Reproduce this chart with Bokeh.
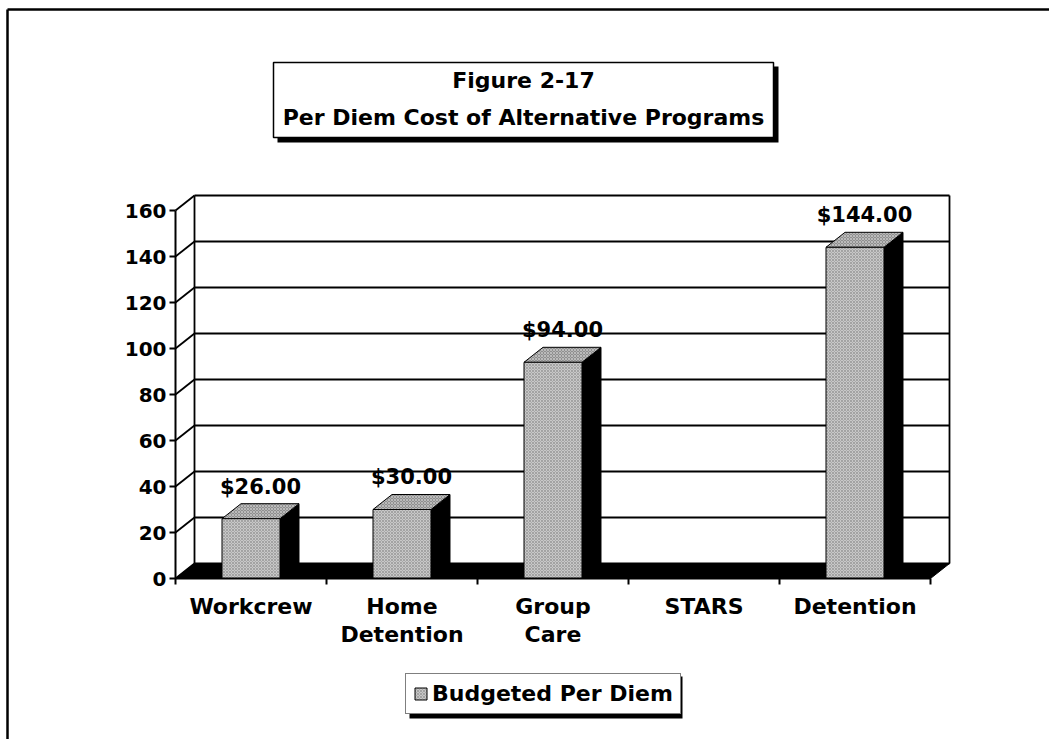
from bokeh.plotting import figure
from bokeh.models import Range1d, LinearAxis, FixedTicker, Legend, LegendItem
from bokeh.core.properties import value
from bokeh.embed import file_html
from bokeh.resources import INLINE

# ---------------- data ----------------
categories = ["Workcrew", "Home Detention", "Group Care", "STARS", "Detention"]
axis_labels = ["Workcrew", "Home\nDetention", "Group\nCare", "STARS", "Detention"]
budgeted = [26.0, 30.0, 94.0, None, 144.0]
value_labels = ["$26.00", "$30.00", "$94.00", "", "$144.00"]
y_ticks = [0, 20, 40, 60, 80, 100, 120, 140, 160]
title_lines = ["Figure 2-17", "Per Diem Cost of Alternative Programs"]
series_name = "Budgeted Per Diem"

# ---------------- geometry ----------------
W, H = 1049, 739
X0_PX, Y0_PX = 175, 578          # front-left corner of floor (category -0.5, value 0)
PX_PER_CAT, PX_PER_VAL = 151, 2.3
DEPTH_X_PX, DEPTH_Y_PX = 19, 15


def xd(px):
    return -0.5 + (px - X0_PX) / PX_PER_CAT


def yd(py):
    return (Y0_PX - py) / PX_PER_VAL


DX = DEPTH_X_PX / PX_PER_CAT
DY = DEPTH_Y_PX / PX_PER_VAL
HALF = 0.192
XMIN, XMAX = -0.5, len(categories) - 0.5
YMAX = y_ticks[-1]
FONT = value("DejaVu Sans")

p = figure(width=W, height=H, x_range=Range1d(xd(0), xd(W)), y_range=Range1d(yd(H), yd(0)),
           output_backend="svg", toolbar_location=None, min_border=0,
           x_axis_type=None, y_axis_type=None, outline_line_color=None,
           background_fill_color="white", border_fill_color="white")

# outer frame (top and left edges visible)
p.segment(x0=[xd(7), xd(7)], y0=[yd(9), yd(9)], x1=[xd(W + 5), xd(7)], y1=[yd(9), yd(H + 5)],
          line_color="black", line_width=2.5)

# back wall gridlines
p.segment(x0=[XMIN + DX] * len(y_ticks), y0=[t + DY for t in y_ticks],
          x1=[XMAX + DX] * len(y_ticks), y1=[t + DY for t in y_ticks],
          line_color="black", line_width=1.8)
# side wall diagonals
p.segment(x0=[XMIN] * len(y_ticks), y0=y_ticks,
          x1=[XMIN + DX] * len(y_ticks), y1=[t + DY for t in y_ticks],
          line_color="black", line_width=1.8)
# back wall vertical edges
p.segment(x0=[XMIN + DX, XMAX + DX], y0=[DY, DY], x1=[XMIN + DX, XMAX + DX], y1=[YMAX + DY, YMAX + DY],
          line_color="black", line_width=1.8)

# floor
p.patch(x=[XMIN, XMAX, XMAX + DX, XMIN + DX], y=[0, 0, DY, DY], fill_color="black", line_color="black")

# bars
idx = [i for i, v in enumerate(budgeted) if v is not None]
vals = [budgeted[i] for i in idx]
side_x = [[i + HALF, i + HALF + DX, i + HALF + DX, i + HALF] for i in idx]
side_y = [[0, DY, v + DY, v] for v in vals]
p.patches(side_x, side_y, fill_color="black", line_color="black")
top_x = [[i - HALF, i + HALF, i + HALF + DX, i - HALF + DX] for i in idx]
top_y = [[v, v, v + DY, v + DY] for v in vals]
p.patches(top_x, top_y, fill_color="#8f8f8f", line_color="black", line_width=1,
          hatch_pattern="diagonal_cross", hatch_color="#d8d8d8", hatch_scale=3, hatch_weight=0.6)
front = p.quad(left=[i - HALF for i in idx], right=[i + HALF for i in idx], bottom=[0] * len(idx), top=vals,
               fill_color="#c8c8c8", line_color="black", line_width=1,
               hatch_pattern="diagonal_cross", hatch_color="#8a8a8a", hatch_scale=3, hatch_weight=0.6)

# value labels
p.text(x=[i + DX / 2 for i in idx], y=[v + 14 for v in vals], text=[value_labels[i] for i in idx],
       text_font=FONT, text_font_style="bold", text_font_size="21px", text_color="black",
       text_align="center", text_baseline="middle")

# axes
yax = LinearAxis(fixed_location=XMIN, ticker=FixedTicker(ticks=y_ticks), bounds=(0, YMAX),
                 axis_line_width=2, axis_line_color="black",
                 major_tick_out=6, major_tick_in=0, major_tick_line_width=2, minor_tick_out=0,
                 major_label_standoff=3, major_label_text_font="DejaVu Sans",
                 major_label_text_font_style="bold", major_label_text_font_size="20px",
                 major_label_text_color="black")
p.add_layout(yax, "left")

xax = LinearAxis(fixed_location=0, bounds=(XMIN, XMAX),
                 ticker=FixedTicker(ticks=list(range(len(categories))),
                                    minor_ticks=[k - 0.5 for k in range(len(categories) + 1)]),
                 major_label_overrides={k: lab for k, lab in enumerate(axis_labels)},
                 axis_line_width=2, axis_line_color="black",
                 major_tick_out=0, major_tick_in=0, minor_tick_out=6, minor_tick_in=0,
                 minor_tick_line_width=2, minor_tick_line_color="black",
                 major_label_standoff=9, major_label_text_font="DejaVu Sans",
                 major_label_text_font_style="bold", major_label_text_font_size="22px",
                 major_label_text_line_height=1.15,
                 major_label_text_color="black")
p.add_layout(xax, "below")

# title box with drop shadow
p.quad(left=[xd(277)], right=[xd(778)], top=[yd(66)], bottom=[yd(142)], fill_color="black", line_color=None)
p.quad(left=[xd(273)], right=[xd(773)], top=[yd(62)], bottom=[yd(137)], fill_color="white",
       line_color="black", line_width=1.5)
p.text(x=[xd(523), xd(523)], y=[yd(80), yd(117)], text=title_lines, text_font=FONT,
       text_font_style="bold", text_font_size="22px", text_color="black",
       text_align="center", text_baseline="middle")

# legend with drop shadow
p.quad(left=[xd(409)], right=[xd(682)], top=[yd(676)], bottom=[yd(718)], fill_color="black", line_color=None)
legend = Legend(items=[LegendItem(label=series_name, renderers=[front])], location=(405, H - 714),
                padding=7, margin=0, spacing=0, glyph_width=15, glyph_height=15, label_standoff=4,
                label_text_font="DejaVu Sans", label_text_font_style="bold", label_text_font_size="22px",
                label_text_color="black", border_line_color="black", border_line_width=1.5,
                background_fill_color="white", background_fill_alpha=1.0)
p.add_layout(legend)

open("out.html", "w").write(file_html(p, INLINE))
